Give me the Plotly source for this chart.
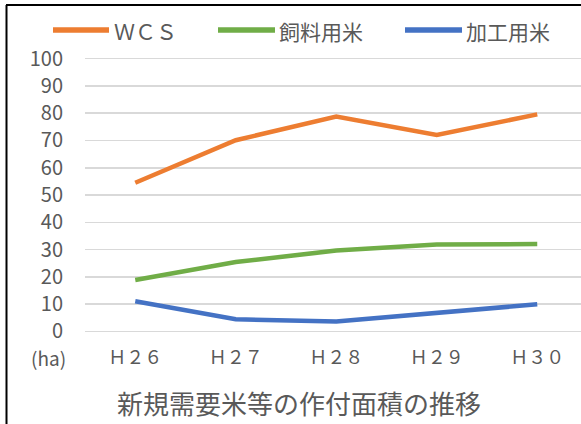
import plotly.graph_objects as go

# ---- data ----
categories = ["Ｈ２６", "Ｈ２７", "Ｈ２８", "Ｈ２９", "Ｈ３０"]
series_names = ["ＷＣＳ", "飼料用米", "加工用米"]
wcs = [54.5, 70.1, 78.8, 72.0, 79.6]
feed_rice = [18.8, 25.4, 29.6, 31.8, 32.0]
processing_rice = [11.0, 4.4, 3.6, 6.7, 9.9]
y_ticks = [0, 10, 20, 30, 40, 50, 60, 70, 80, 90, 100]
unit_label = "(ha)"
title_text = "新規需要米等の作付面積の推移"

colors = ["#ED7D31", "#70AD47", "#4472C4"]
text_color = "#595959"
FONT = "Noto Sans CJK JP"

W, H = 581, 424
L, R, T, B = 85, 0, 56, 90
PW, PH = W - L - R, H - T - B


def px(x):
    return (x - L) / PW


def py(y):
    return (H - B - y) / PH


fig = go.Figure()
for name, vals, col in zip(series_names, [wcs, feed_rice, processing_rice], colors):
    fig.add_trace(go.Scatter(
        x=list(range(len(categories))), y=vals, name=name, mode="lines",
        line=dict(color=col, width=4.5), showlegend=False, hoverinfo="skip",
    ))

shapes = []
annotations = []
# manual legend (line x0, line x1, text x)
leg_x = [(53, 109, 112), (218, 275, 277), (405, 462, 464)]
for (x0, x1, tx), name, col in zip(leg_x, series_names, colors):
    shapes.append(dict(type="line", xref="paper", yref="paper",
                       x0=px(x0), x1=px(x1), y0=py(30), y1=py(30),
                       line=dict(color=col, width=5.5)))
    annotations.append(dict(xref="paper", yref="paper", x=px(tx), y=py(31),
                            text=name, showarrow=False, xanchor="left", yanchor="middle",
                            font=dict(family=FONT, size=21, color=text_color)))

# border (left and top visible)
shapes.append(dict(type="line", xref="paper", yref="paper",
                   x0=px(6.5), x1=px(6.5), y0=py(5), y1=py(H + 5),
                   line=dict(color="#000000", width=2)))
shapes.append(dict(type="line", xref="paper", yref="paper",
                   x0=px(6), x1=px(W + 5), y0=py(5), y1=py(5),
                   line=dict(color="#000000", width=2)))

annotations.append(dict(xref="paper", yref="paper", x=px(48), y=py(357),
                        text=unit_label, showarrow=False, xanchor="center", yanchor="middle",
                        font=dict(family=FONT, size=19, color=text_color)))
annotations.append(dict(xref="paper", yref="paper", x=px(299), y=py(402),
                        text=title_text, showarrow=False, xanchor="center", yanchor="middle",
                        font=dict(family=FONT, size=26, color=text_color)))

fig.update_layout(
    width=W, height=H,
    margin=dict(l=L, r=R, t=T, b=B, pad=0),
    paper_bgcolor="white", plot_bgcolor="white",
    shapes=shapes, annotations=annotations,
    hovermode=False,
    xaxis=dict(
        tickmode="array", tickvals=list(range(len(categories))), ticktext=categories,
        range=[-0.5, -0.5 + PW / 100.5],
        showgrid=False, zeroline=False, showline=False,
        ticks="outside", ticklen=7, tickcolor="rgba(0,0,0,0)",
        tickfont=dict(family=FONT, size=18, color=text_color),
    ),
    yaxis=dict(
        range=[-1, 101], tickmode="array", tickvals=y_ticks,
        showgrid=True, gridcolor="#D9D9D9", gridwidth=1.5,
        zeroline=False, showline=False,
        ticklabelstandoff=21,
        tickfont=dict(family=FONT, size=20, color=text_color),
    ),
)

fig.write_html(
    "out.html",
    config={"displayModeBar": False, "staticPlot": True},
    post_script="document.body.style.margin='0';document.body.style.overflow='hidden';",
)
